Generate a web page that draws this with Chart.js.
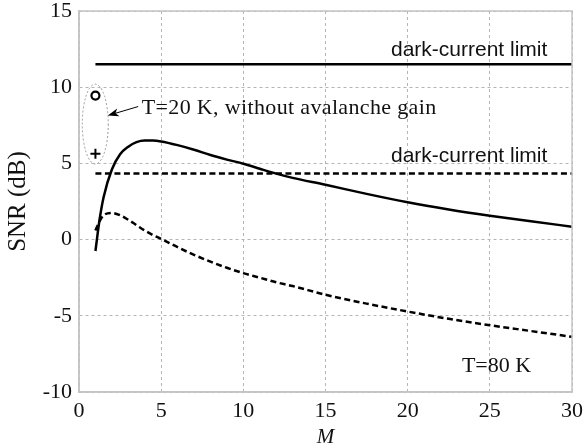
<!DOCTYPE html>
<html>
<head>
<meta charset="utf-8">
<script src="https://cdn.jsdelivr.net/npm/chart.js@4.4.1/dist/chart.umd.min.js"></script>
<style>
  html, body { margin: 0; padding: 0; background: #fff; }
  #wrap { width: 587px; height: 448px; position: relative; }
</style>
</head>
<body>
<div id="wrap"><canvas id="snrChart"></canvas></div>
<script>
// avalanche gain M and SNR (dB)
const mValues = [1, 1.25, 1.5, 2, 2.5, 3, 3.5, 4, 4.5, 5, 6, 7, 8, 9, 10, 11, 12, 13, 15, 17.5, 20, 22.5, 25, 27.5, 30];
const snrT20  = [-0.75, 1.3, 2.8, 4.6, 5.6, 6.1, 6.4, 6.5, 6.5, 6.44, 6.2, 5.9, 5.55, 5.25, 4.98, 4.65, 4.33, 4.05, 3.6, 3.0, 2.45, 1.98, 1.57, 1.2, 0.85];
const snrT80  = [0.6, 1.2, 1.6, 1.75, 1.6, 1.3, 0.95, 0.6, 0.3, 0.05, -0.5, -1.0, -1.45, -1.85, -2.2, -2.5, -2.8, -3.05, -3.62, -4.2, -4.72, -5.2, -5.62, -6.0, -6.38];
const darkLimitM = [1, 30];
const darkLimitT20 = 11.5;
const darkLimitT80 = 4.33;
// without avalanche gain (M = 1)
const noGainM = 1;
const noGainT20 = 9.45;
const noGainT80 = 5.63;
const xTicks = [0, 5, 10, 15, 20, 25, 30];
const yTicks = [-10, -5, 0, 5, 10, 15];

const serif = "'Liberation Serif', 'Times New Roman', serif";
const sans = "'Liberation Sans', Arial, sans-serif";

const pts = (xs, ys) => xs.map((x, i) => ({ x: x, y: ys[i] }));

// text, ellipse and arrow laid over the plot
const overlay = {
  id: 'overlay',
  afterDraw(chart) {
    const { ctx, chartArea: a, scales: { x, y } } = chart;
    ctx.save();
    // box around axes
    ctx.strokeStyle = '#c4c4c4';
    ctx.lineWidth = 1.5;
    ctx.strokeRect(a.left, a.top, a.right - a.left, a.bottom - a.top);

    // dotted ellipse round the two no-gain points
    ctx.strokeStyle = '#9a9a9a';
    ctx.lineWidth = 1;
    ctx.setLineDash([2, 2]);
    const cx = x.getPixelForValue(0.99), cy = y.getPixelForValue(7.58);
    const rx = x.getPixelForValue(0.99 + 0.79) - cx;
    const ry = cy - y.getPixelForValue(7.58 + 2.62);
    ctx.beginPath();
    ctx.ellipse(cx, cy, rx, ry, 0, 0, Math.PI * 2);
    ctx.stroke();
    ctx.setLineDash([]);

    // arrow
    const x1 = x.getPixelForValue(3.6), y1 = y.getPixelForValue(8.73);
    const x2 = x.getPixelForValue(1.75), y2 = y.getPixelForValue(8.14);
    const ang = Math.atan2(y2 - y1, x2 - x1);
    ctx.strokeStyle = '#000';
    ctx.lineWidth = 1;
    ctx.beginPath();
    ctx.moveTo(x1, y1);
    ctx.lineTo(x2 - 6 * Math.cos(ang), y2 - 6 * Math.sin(ang));
    ctx.stroke();
    ctx.fillStyle = '#000';
    ctx.beginPath();
    ctx.moveTo(x2, y2);
    ctx.lineTo(x2 - 11 * Math.cos(ang) + 4 * Math.sin(ang), y2 - 11 * Math.sin(ang) - 4 * Math.cos(ang));
    ctx.lineTo(x2 - 8 * Math.cos(ang), y2 - 8 * Math.sin(ang));
    ctx.lineTo(x2 - 11 * Math.cos(ang) - 4 * Math.sin(ang), y2 - 11 * Math.sin(ang) + 4 * Math.cos(ang));
    ctx.closePath();
    ctx.fill();

    // labels
    ctx.fillStyle = '#111';
    ctx.textBaseline = 'alphabetic';
    ctx.font = '22px ' + serif;
    ctx.textAlign = 'left';
    ctx.letterSpacing = '0.35px';
    ctx.fillText('T=20 K, without avalanche gain', x.getPixelForValue(3.82), y.getPixelForValue(8.25));
    ctx.letterSpacing = '0px';
    ctx.fillText('T=80 K', x.getPixelForValue(23.3), y.getPixelForValue(-8.69));
    ctx.font = '21px ' + sans;
    ctx.textAlign = 'right';
    ctx.fillText('dark-current limit', x.getPixelForValue(28.5), y.getPixelForValue(12.05));
    ctx.fillText('dark-current limit', x.getPixelForValue(28.5), y.getPixelForValue(5.1));
    ctx.restore();
  }
};

new Chart(document.getElementById('snrChart'), {
  type: 'scatter',
  data: {
    datasets: [
      {
        label: 'T=20 K',
        data: pts(mValues, snrT20),
        showLine: true,
        borderColor: '#000',
        borderWidth: 2.5,
        pointRadius: 0,
        cubicInterpolationMode: 'monotone'
      },
      {
        label: 'T=80 K',
        data: pts(mValues, snrT80),
        showLine: true,
        borderColor: '#000',
        borderWidth: 2.5,
        borderDash: [6, 3.5],
        pointRadius: 0,
        cubicInterpolationMode: 'monotone'
      },
      {
        label: 'dark-current limit T=20 K',
        data: pts(darkLimitM, darkLimitM.map(() => darkLimitT20)),
        showLine: true,
        borderColor: '#000',
        borderWidth: 2.5,
        pointRadius: 0
      },
      {
        label: 'dark-current limit T=80 K',
        data: pts(darkLimitM, darkLimitM.map(() => darkLimitT80)),
        showLine: true,
        borderColor: '#000',
        borderWidth: 2.5,
        borderDash: [6, 3.5],
        pointRadius: 0
      },
      {
        label: 'no gain T=20 K',
        data: [{ x: noGainM, y: noGainT20 }],
        pointStyle: 'circle',
        pointRadius: 4,
        borderWidth: 2.2,
        borderColor: '#000',
        backgroundColor: '#fff'
      },
      {
        label: 'no gain T=80 K',
        data: [{ x: noGainM, y: noGainT80 }],
        pointStyle: 'cross',
        pointRadius: 5,
        borderWidth: 2,
        borderColor: '#000'
      }
    ]
  },
  options: {
    responsive: true,
    maintainAspectRatio: false,
    animation: false,
    layout: { padding: { top: 11, right: 15, left: 0, bottom: 0 } },
    plugins: { legend: { display: false }, tooltip: { enabled: false } },
    scales: {
      x: {
        type: 'linear',
        min: 0,
        max: 30,
        afterFit(scale) {
          scale.height = 56;
          scale.paddingLeft = 0;
          scale.paddingRight = 0;
        },
        afterBuildTicks(scale) { scale.ticks = xTicks.map(v => ({ value: v })); },
        ticks: { color: '#111', font: { family: serif, size: 22 }, padding: 6, maxRotation: 0 },
        grid: { color: '#b4b4b4', lineWidth: 1, drawTicks: false },
        border: { color: '#c4c4c4', width: 1.5, dash: [3, 3] },
        title: {
          display: true,
          text: 'M',
          color: '#111',
          font: { family: serif, size: 21, style: 'italic', lineHeight: 1 },
          padding: { top: 0, bottom: 0 }
        }
      },
      y: {
        type: 'linear',
        min: -10,
        max: 15,
        afterFit(scale) {
          scale.width = 79;
          scale.paddingTop = 0;
          scale.paddingBottom = 0;
        },
        afterBuildTicks(scale) { scale.ticks = yTicks.map(v => ({ value: v })); },
        ticks: { color: '#111', font: { family: serif, size: 22 }, padding: 7 },
        grid: { color: '#b4b4b4', lineWidth: 1, drawTicks: false },
        border: { color: '#c4c4c4', width: 1.5, dash: [3, 3] },
        title: {
          display: true,
          text: 'SNR (dB)',
          color: '#111',
          font: { family: serif, size: 25 },
          padding: { top: 3, bottom: 0 }
        }
      }
    }
  },
  plugins: [overlay]
});
</script>
</body>
</html>
